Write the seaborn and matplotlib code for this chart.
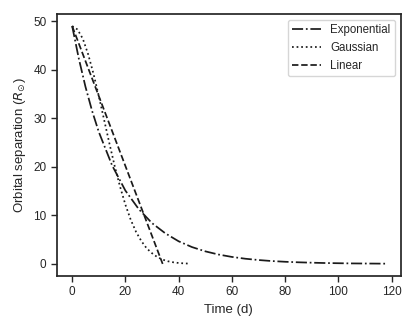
import numpy as np
import pandas as pd
import matplotlib
matplotlib.use("Agg")
import matplotlib.pyplot as plt
import seaborn as sns

# ---- data ----
exp_t = [0, 2.5, 5, 7.5, 10, 15, 20, 25, 30, 35, 40, 45, 50, 55, 60, 65, 70,
         75, 80, 85, 90, 95, 100, 105, 110, 115, 118]
exp_r = [49.0, 42.3, 36.5, 31.5, 27.2, 20.3, 15.1, 11.3, 8.4, 6.3, 4.66, 3.47,
         2.59, 1.93, 1.44, 1.07, 0.80, 0.59, 0.44, 0.33, 0.25, 0.18, 0.14,
         0.10, 0.08, 0.06, 0.05]

gauss_t = [0, 2, 4, 6, 8, 10, 12, 14, 16, 18, 20, 22, 24, 26, 28, 30, 32, 34,
           36, 38, 40, 42, 44]
gauss_r = [49.0, 48.3, 46.4, 43.2, 39.2, 34.6, 29.7, 24.8, 20.1, 15.9, 12.2,
           9.1, 6.6, 4.7, 3.2, 2.2, 1.4, 0.88, 0.54, 0.33, 0.19, 0.11, 0.06]

lin_t = [0, 34]
lin_r = [49.0, 0.0]

MODELS = ["Exponential", "Gaussian", "Linear"]

df = pd.concat([
    pd.DataFrame({"t": exp_t, "r": exp_r, "model": MODELS[0]}),
    pd.DataFrame({"t": gauss_t, "r": gauss_r, "model": MODELS[1]}),
    pd.DataFrame({"t": lin_t, "r": lin_r, "model": MODELS[2]}),
], ignore_index=True)

sns.set_theme(style="ticks")
plt.rcParams["font.family"] = ["Liberation Sans", "DejaVu Sans"]
plt.rcParams["mathtext.fontset"] = "dejavusans"

fig, ax = plt.subplots(figsize=(4.15, 3.32), dpi=100)
fig.subplots_adjust(left=0.137, right=0.966, top=0.958, bottom=0.169)

sns.lineplot(
    data=df,
    x="t",
    y="r",
    style="model",
    style_order=MODELS,
    dashes={
        "Exponential": (6.4, 1.6, 1, 1.6),
        "Gaussian": (1, 1.65),
        "Linear": (3.7, 1.6),
    },
    color="k",
    linewidth=1.25,
    estimator=None,
    sort=False,
    ax=ax,
)

ax.set_xlabel("Time (d)", fontsize=9.5)
ax.set_ylabel(r"Orbital separation ($R_{\odot}$)", fontsize=9.5)
ax.set_xticks([0, 20, 40, 60, 80, 100, 120])
ax.set_yticks([0, 10, 20, 30, 40, 50])
ax.set_xlim(-5.75, 123.5)
ax.set_ylim(-2.47, 51.5)
ax.tick_params(labelsize=8.5, length=4, width=1.0)
for s in ax.spines.values():
    s.set_color("0.15")

handles, labels = ax.get_legend_handles_labels()
ax.legend(handles, labels, loc="upper right", fontsize=8.3, handlelength=2.5)

fig.savefig("out.png", dpi=100)
